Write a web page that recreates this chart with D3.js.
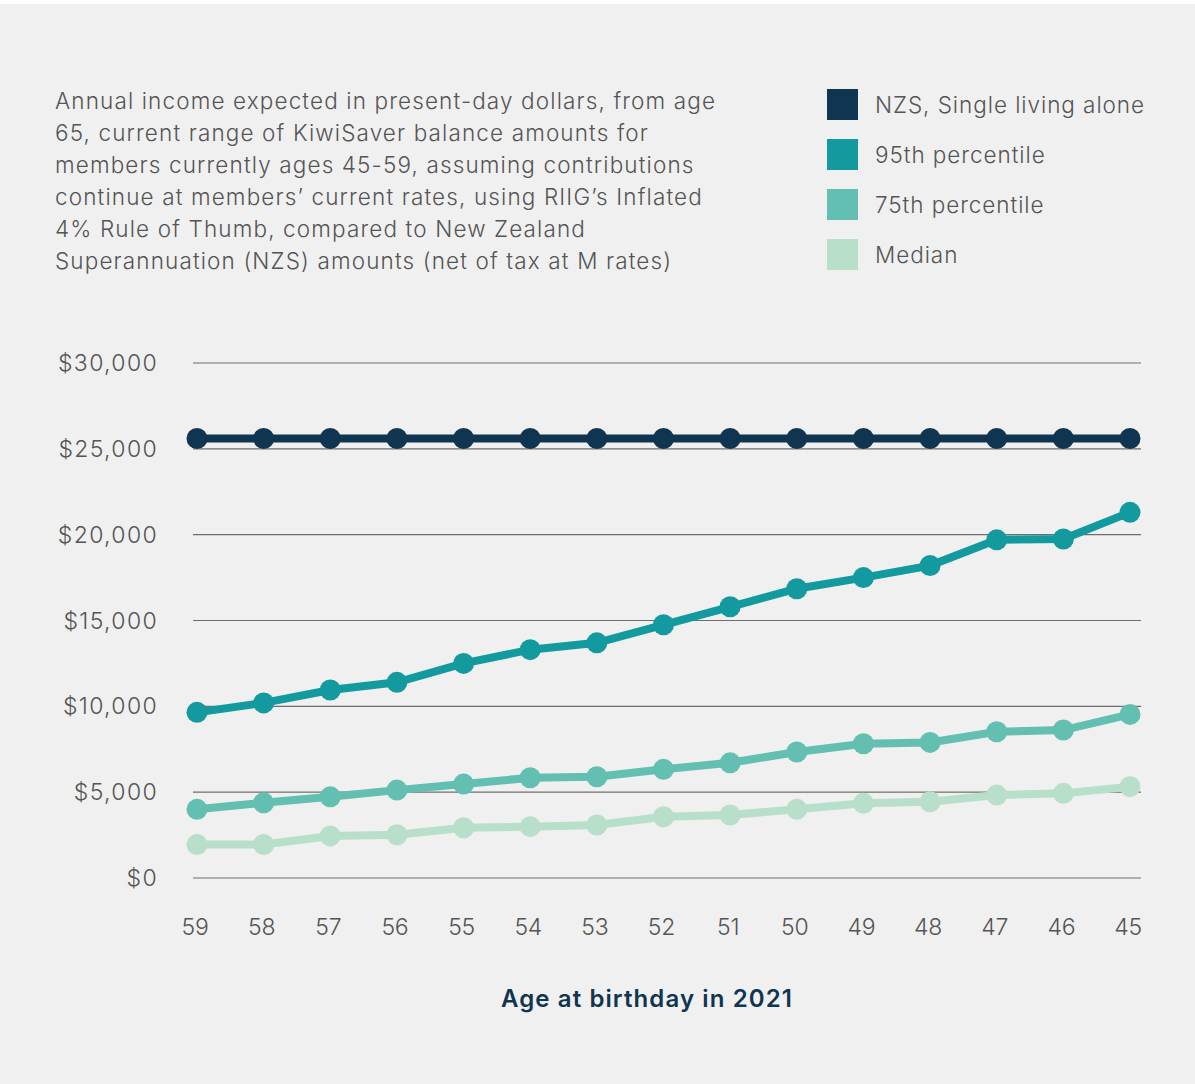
<!DOCTYPE html>
<html><head><meta charset="utf-8">
<script src="https://cdn.jsdelivr.net/npm/d3@7"></script>
<style>html,body{margin:0;padding:0;background:#fff;} svg{display:block;font-family:Inter,"Noto Sans",sans-serif;}</style>
</head><body>
<svg id="c" width="1195" height="1084"></svg>
<script>
const ages = ["59","58","57","56","55","54","53","52","51","50","49","48","47","46","45"];
const nzs   = [25600,25600,25600,25600,25600,25600,25600,25600,25600,25600,25600,25600,25600,25600,25600];
const p95   = [9650,10200,10950,11400,12500,13300,13700,14750,15800,16850,17500,18200,19700,19750,21300];
const p75   = [4000,4380,4730,5120,5470,5840,5900,6330,6710,7340,7820,7900,8520,8620,9530];
const median= [1950,1950,2450,2520,2930,2990,3090,3570,3670,4000,4350,4440,4830,4930,5320];
const yTicks = [0,5000,10000,15000,20000,25000,30000];
const seriesNames = ["NZS, Single living alone","95th percentile","75th percentile","Median"];
const colors = ["#0f3551","#139a9f","#62bfb1","#b8dfc9"];
const titleLines = ["Annual income expected in present-day dollars, from age",
 "65, current range of KiwiSaver balance amounts for",
 "members currently ages 45-59, assuming contributions",
 "continue at members\u2019 current rates, using RIIG\u2019s Inflated",
 "4% Rule of Thumb, compared to New Zealand",
 "Superannuation (NZS) amounts (net of tax at M rates)"];
const xTitle = "Age at birthday in 2021";

const svg = d3.select("#c");
svg.append("rect").attr("x",0).attr("y",4).attr("width",1195).attr("height",1080).attr("fill","#f0f0f0");

function fitSpacing(sel, sampleNode, target){
  const w = sampleNode.getComputedTextLength();
  const n = sampleNode.textContent.length;
  const ls = Math.max(-1, Math.min(3, (target - w)/n));
  sel.attr("letter-spacing", ls.toFixed(2));
}

const x = d3.scalePoint().domain(ages).range([197,1130]);
const y = d3.scaleLinear().domain([0,30000]).range([878,363]);

svg.append("g").selectAll("line").data(yTicks).join("line")
  .attr("x1",193).attr("x2",1141).attr("y1",d=>y(d)).attr("y2",d=>y(d))
  .attr("stroke","#6e6e6e").attr("stroke-width",1.2);

const yl = svg.append("g").selectAll("text").data(yTicks).join("text")
  .attr("x",158).attr("y",d=>y(d)+8).attr("text-anchor","end")
  .attr("font-size",23).attr("font-weight",300).attr("fill","#555")
  .text(d=>"$"+d3.format(",")(d));
fitSpacing(yl, yl.nodes()[6], 100);

const xl = svg.append("g").selectAll("text").data(ages).join("text")
  .attr("x",d=>x(d)-2).attr("y",935).attr("text-anchor","middle")
  .attr("font-size",23).attr("font-weight",300).attr("fill","#555").text(d=>d);
fitSpacing(xl, xl.nodes()[0], 27);

const all = [nzs,p95,p75,median];
const line = d3.line().x((d,i)=>x(ages[i])).y(d=>y(d));
all.slice().reverse().forEach((vals,ri)=>{
  const k = all.length-1-ri;
  const g = svg.append("g");
  g.append("path").attr("d",line(vals)).attr("fill","none").attr("stroke",colors[k]).attr("stroke-width",8);
  g.selectAll("circle").data(vals).join("circle")
    .attr("cx",(d,i)=>x(ages[i])).attr("cy",d=>y(d)).attr("r",10.5).attr("fill",colors[k]);
});

const tl = svg.append("g").selectAll("text").data(titleLines).join("text")
  .attr("x",55).attr("y",(d,i)=>109+i*32).attr("font-size",22.5).attr("font-weight",300).attr("fill","#555").text(d=>d);
fitSpacing(tl, tl.nodes()[0], 661);

const lg = svg.append("g");
seriesNames.forEach((n,i)=>{
  lg.append("rect").attr("x",827).attr("y",89+i*50).attr("width",31).attr("height",31).attr("fill",colors[i]);
});
const lt = lg.selectAll("text").data(seriesNames).join("text")
  .attr("x",875).attr("y",(d,i)=>113+i*50).attr("font-size",22.5).attr("font-weight",300).attr("fill","#555").text(d=>d);
fitSpacing(lt, lt.nodes()[0], 270);

const xt = svg.append("text").attr("x",647).attr("y",1007).attr("text-anchor","middle")
  .attr("font-size",24).attr("font-weight",600).attr("fill","#0f3551").text(xTitle);
fitSpacing(xt, xt.node(), 292);
</script>
</body></html>
